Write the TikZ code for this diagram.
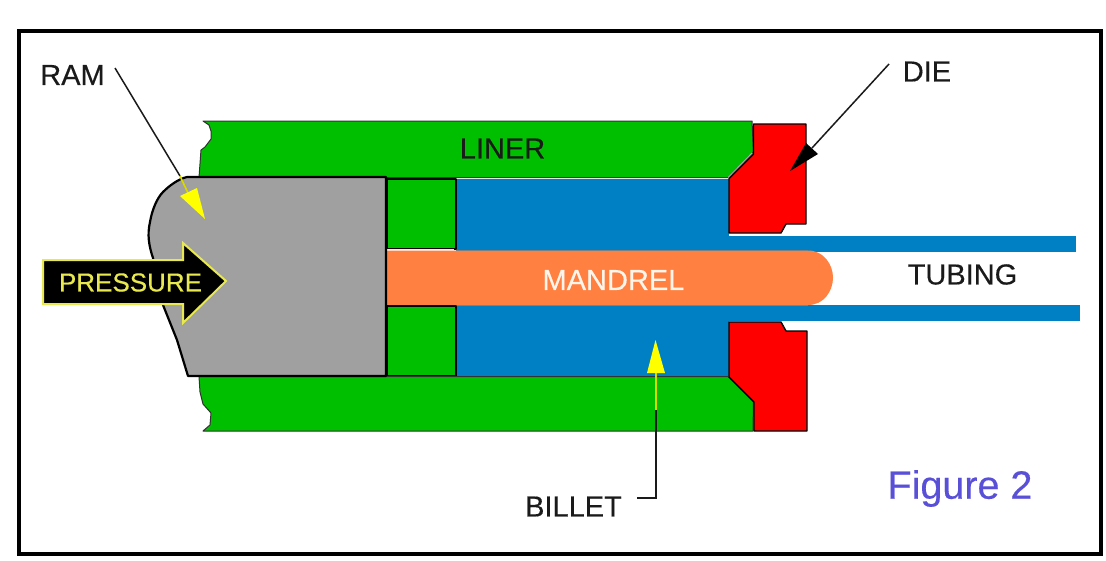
\documentclass[tikz,border=0pt]{standalone}
\usepackage{fontspec}
\setmainfont[FakeBold=0.35,AutoFakeBold=0.35]{Liberation Sans}
\definecolor{linergreen}{HTML}{00BF00}
\definecolor{ramgray}{HTML}{A0A0A0}
\definecolor{billetblue}{HTML}{0080C4}
\definecolor{mandrelorange}{HTML}{FF8040}
\definecolor{dieRed}{HTML}{FF0000}
\definecolor{pressyellow}{HTML}{E8E850}
\definecolor{leaderyellow}{HTML}{FFFF00}
\definecolor{figblue}{HTML}{5A50D8}
\definecolor{inkblack}{HTML}{1A1A1A}
\tikzset{
  label text/.style={inner sep=0pt,text=inkblack,font=\fontsize{29}{29}\selectfont},
  part/.style={draw=black,line width=1.4pt,line join=round},
  leader/.style={draw=inkblack,line width=1.5pt},
  yleader/.style={draw=leaderyellow!85!black,line width=1.6pt},
}
\begin{document}
\begin{tikzpicture}[x=1pt,y=-1pt]
\useasboundingbox (0,0) rectangle (1106,560);
\fill[white] (0,0) rectangle (1106,560);
\draw[black,line width=4pt] (18.5,31) rectangle (1101,554);

% tubing
\fill[billetblue] (728,236) rectangle (1076,252);
\fill[billetblue] (728,305) rectangle (1080,321);

% billet
\fill[billetblue] (456,179) rectangle (729,376);

% mandrel
\fill[mandrelorange] (387,250.5) -- (808,250.5)
  .. controls (824,250.5) and (833,265) .. (833,277.5)
  .. controls (833,291) and (824,305) .. (808,305) -- (387,305) -- cycle;
\draw[black!50,line width=0.7pt] (456,250.5) -- (808,250.5);
\draw[black!50,line width=0.7pt] (456,305) -- (808,305);

% spacer blocks
\filldraw[fill=linergreen,part] (387,179) rectangle (456,249);
\filldraw[fill=linergreen,part] (387,306) rectangle (456,376);
\draw[white!85!orange,line width=1.2pt] (387,249.8) -- (454,249.8);

% liners
\filldraw[fill=linergreen,draw=black!80,line width=1pt,line join=round]
  (203,121) -- (752,121) -- (753.5,152) -- (728,177.5) -- (199,177.5)
  -- (201,150) -- (205,147) -- (211,139) -- (211,131) -- (209,125) -- cycle;
\filldraw[fill=linergreen,draw=black!80,line width=1pt,line join=round]
  (199,376.5) -- (728,376.5) -- (753.5,402) -- (753,431) -- (203,431)
  -- (210,425) -- (211,413) -- (203,404) -- (200,392) -- cycle;
\draw[white!70!black,line width=0.8pt] (728,177.5) -- (752,153);

% die
\filldraw[fill=dieRed,part]
  (753.5,124) -- (806,124) -- (806,224) -- (786,224) -- (781,233) -- (729,233)
  -- (729,178.5) -- (753.5,154) -- cycle;
\filldraw[fill=dieRed,part]
  (729,322) -- (781,322) -- (786,331) -- (807,331) -- (807,431) -- (754,431)
  -- (754,402) -- (729,377) -- cycle;

% ram
\filldraw[fill=ramgray,draw=black,line width=2.2pt,line join=round]
  (187,177) -- (386,177) -- (386,376) -- (188,376) -- (177,340) -- (163,305) -- (153,258)
  .. controls (149,246) and (147,235) .. (150,222)
  .. controls (152,210) and (157,198) .. (163,192)
  .. controls (169,186) and (178,179) .. (187,177) -- cycle;

% labels
\node[label text] (ramlabel) at (72.5,75) {RAM};
\node[label text] (dielabel) at (927,71.5) {DIE};
\node[label text] (linerlabel) at (502.5,148.5) {LINER};
\node[label text] (tubinglabel) at (962.5,274.5) {TUBING};
\node[label text] (billetlabel) at (573.5,506.5) {BILLET};
\node[label text,text=white!92!orange] (mandrellabel) at (613.5,280) {MANDREL};
\node[inner sep=0pt,text=figblue,font=\fontsize{39.5}{40}\selectfont] (figlabel) at (960,488.5) {Figure 2};

% pressure arrow
\filldraw[fill=black,draw=pressyellow,line width=2pt,line join=miter]
  (43,260) -- (183,260) -- (183,243) -- (226,281) -- (183,323) -- (183,304) -- (43,304) -- cycle;
\node[inner sep=0pt,text=pressyellow,font=\fontsize{26}{26}\selectfont] (presslabel) at (130.5,282.5) {PRESSURE};

% leaders
\coordinate (ramstart) at (115,68);
\coordinate (ramedge) at (180,176);
\coordinate (rambase) at (188,193);
\coordinate (ramtip) at (205,219);
\draw[leader] (ramstart) -- (ramedge);
\draw[yleader] (ramedge) -- (rambase);
\fill[leaderyellow] (ramtip) -- (180,196) -- (197,188) -- cycle;

\coordinate (diestart) at (889,64);
\coordinate (diebase) at (812,148);
\draw[leader] (diestart) -- (diebase);
\fill[black] (790,171) -- (806,143) -- (818,154) -- cycle;

\coordinate (billetcorner) at (656,498);
\coordinate (billetend) at (637,498);
\coordinate (billetmid) at (656,410);
\coordinate (billetbase) at (656,372);
\draw[leader] (billetend) -- (billetcorner) -- (billetmid);
\draw[yleader] (billetmid) -- (billetbase);
\fill[leaderyellow] (655.5,340) -- (647,373) -- (665,373) -- cycle;
\end{tikzpicture}
\end{document}
